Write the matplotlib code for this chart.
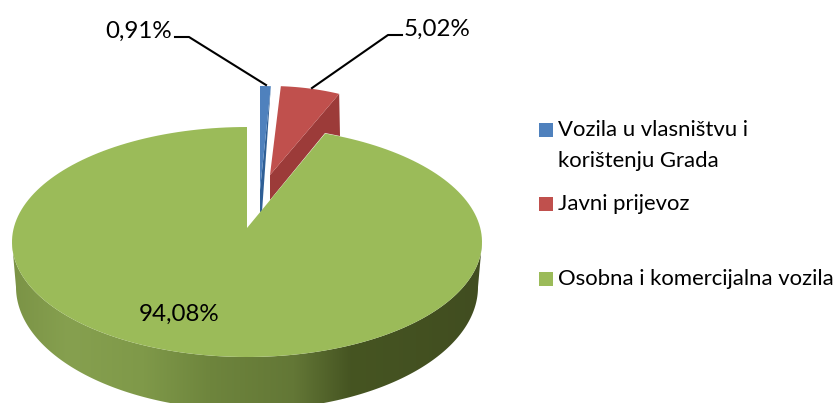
import numpy as np
import matplotlib
matplotlib.use('Agg')
import matplotlib.pyplot as plt
from matplotlib.colors import LinearSegmentedColormap
from matplotlib.patches import Polygon, Rectangle

plt.rcParams['font.family'] = ['Lato', 'DejaVu Sans']

labels = ['Vozila u vlasništvu i\nkorištenju Grada', 'Javni prijevoz', 'Osobna i komercijalna vozila']
values = [0.91, 5.02, 94.08]
value_labels = ['0,91%', '5,02%', '94,08%']
colors = ['#4F81BD', '#C0504D', '#9BBB59']
side_colors = ['#2F5F96', '#9C3B39']
legend_y = [130, 204, 279]

total = sum(values)
edges = np.cumsum([0] + values) / total * 360


def rim(cx, cy, a, b, start, end, n=200):
    # angles clockwise from the top of the pie
    th = np.radians(np.linspace(start, end, n))
    return np.column_stack([cx + a * np.sin(th), cy - b * np.cos(th)])


fig = plt.figure(figsize=(8.36, 4.03), dpi=100, facecolor='white')
ax = fig.add_axes([0, 0, 1, 1])
ax.set_xlim(0, 836)
ax.set_ylim(403, 0)
ax.axis('off')

# ----------
# green slice, side wall first
#
upper = rim(247, 242, 235, 115, 90, 270)
lower = rim(247, 287, 231, 123, 90, 270)
wall = Polygon(np.vstack([upper, lower[::-1]]), closed=True, fc='none', ec='none')
ax.add_patch(wall)
wall_cmap = LinearSegmentedColormap.from_list('wall', [
    (0.0, '#7B9346'), (0.12, '#86A04F'), (0.28, '#7F9949'), (0.42, '#6E853D'),
    (0.60, '#637736'), (0.72, '#465522'), (1.0, '#414D20')])
grad = ax.imshow(np.linspace(0, 1, 256).reshape(1, -1), cmap=wall_cmap, aspect='auto',
                 extent=[12, 482, 403, 240], zorder=1)
grad.set_clip_path(wall)
ax.set_xlim(0, 836)
ax.set_ylim(403, 0)

green_top = rim(247, 242, 235, 115, edges[2] * 0.91, 360)
ax.add_patch(Polygon(np.vstack([[[247, 228]], green_top]), closed=True,
                     fc=colors[2], ec='none', zorder=2))

# ----------
# red slice, dark side then top
#
red_arc = rim(270, 201, 190, 115, edges[1], edges[2], 60)
ax.add_patch(Polygon([(270, 175), red_arc[-1], (340, 136), (325, 133), (270, 200)],
                     closed=True, fc=side_colors[1], ec='none', zorder=1.5))
ax.add_patch(Polygon(np.vstack([[[270, 175]], red_arc]), closed=True,
                     fc=colors[1], ec='none', zorder=3))

# ----------
# blue slice
#
blue_arc = rim(260, 201, 190, 115, edges[0], edges[1], 20)
ax.add_patch(Polygon([(260, 190), blue_arc[-1], (262, 212), (260, 212)],
                     closed=True, fc=side_colors[0], ec='none', zorder=1.5))
ax.add_patch(Polygon(np.vstack([[[260, 190]], blue_arc]), closed=True,
                     fc=colors[0], ec='none', zorder=3))

# ----------
# labels and leader lines
#
ax.plot([175, 189, 266], [37, 37, 85], color='black', lw=1.5, zorder=4)
ax.plot([312, 388, 402], [88, 35, 35], color='black', lw=1.5, zorder=4)
ax.text(138.5, 31, value_labels[0], fontsize=17.4, ha='center', va='center')
ax.text(437, 29, value_labels[1], fontsize=17.4, ha='center', va='center')
ax.text(179.5, 314, value_labels[2], fontsize=17.4, ha='center', va='center', zorder=5)

# ----------
# legend
#
for lab, col, y in zip(labels, colors, legend_y):
    ax.add_patch(Rectangle((539, y - 7.5), 14, 14, fc=col, ec='none'))
    ax.text(558, y, lab.split('\n')[0], fontsize=15.9, va='center')
    if '\n' in lab:
        ax.text(558, y + 31, lab.split('\n')[1], fontsize=15.9, va='center')

fig.savefig('out.png', dpi=100)
